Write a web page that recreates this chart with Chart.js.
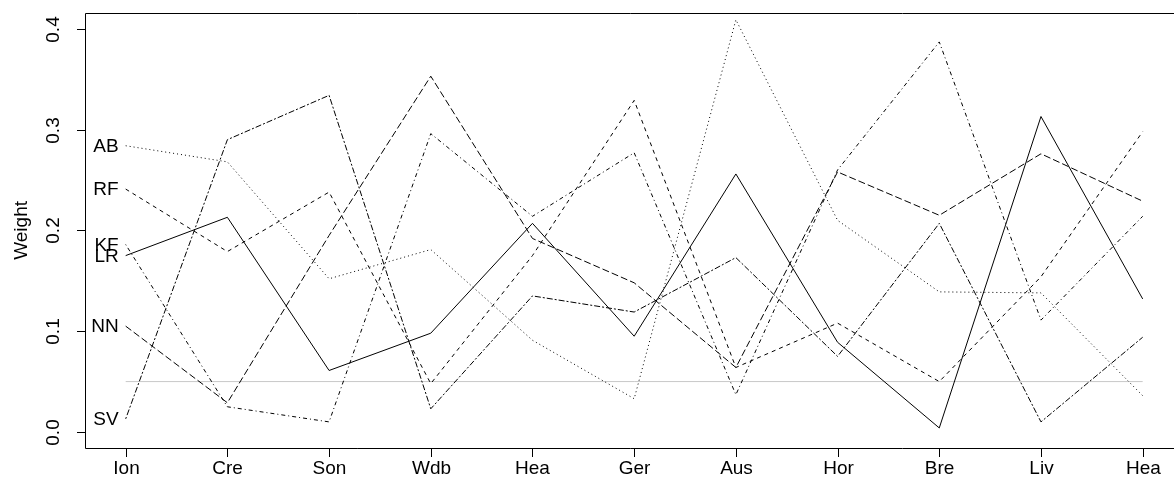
<!DOCTYPE html>
<html>
<head>
<meta charset="utf-8">
<script src="https://cdn.jsdelivr.net/npm/chart.js@4/dist/chart.umd.min.js"></script>
<style>
    html, body { margin: 0; padding: 0; background: #fff; overflow: hidden; }
    #chart { display: block; }
</style>
</head>
<body>
<canvas id="chart" width="1174" height="481"></canvas>
<script>
// categories along the x axis
var categories = ['Ion', 'Cre', 'Son', 'Wdb', 'Hea', 'Ger', 'Aus', 'Hor', 'Bre', 'Liv', 'Hea'];
var yTicks = [0.0, 0.1, 0.2, 0.3, 0.4];
var yTickLabels = ['0.0', '0.1', '0.2', '0.3', '0.4'];

// weights per model
var LR = [0.175, 0.213, 0.061, 0.098, 0.207, 0.095, 0.256, 0.089, 0.004, 0.313, 0.132];
var KF = [0.186, 0.025, 0.010, 0.296, 0.214, 0.277, 0.037, 0.260, 0.387, 0.111, 0.214];
var RF = [0.241, 0.179, 0.238, 0.048, 0.175, 0.329, 0.064, 0.108, 0.050, 0.154, 0.298];
var AB = [0.284, 0.268, 0.152, 0.181, 0.091, 0.033, 0.409, 0.210, 0.139, 0.138, 0.036];
var NN = [0.105, 0.029, 0.195, 0.353, 0.192, 0.148, 0.064, 0.258, 0.215, 0.276, 0.229];
var SV = [0.013, 0.290, 0.334, 0.023, 0.135, 0.119, 0.173, 0.075, 0.207, 0.010, 0.094];
var refLevel = 0.05;

var FONT = '19px "Liberation Sans", Arial, sans-serif';

function pts(arr) {
    return arr.map(function (v, i) { return {x: i, y: v}; });
}

function series(name, arr, dash) {
    return {
        label: name,
        data: pts(arr),
        borderColor: '#000',
        borderWidth: 1,
        borderDash: dash,
        pointRadius: 0,
        fill: false,
        tension: 0,
    };
}

// box, axes and the series names drawn on top of the library's scales
var rAxes = {
    id: 'rAxes',
    afterDraw: function (chart) {
        var ctx = chart.ctx;
        var a = chart.chartArea;
        var xs = chart.scales.x, ys = chart.scales.y;
        ctx.save();
        ctx.strokeStyle = '#000';
        ctx.lineWidth = 1;
        ctx.beginPath();
        ctx.moveTo(a.right + 2, Math.round(a.top) + 0.5);
        ctx.lineTo(Math.round(a.left) + 0.5, Math.round(a.top) + 0.5);
        ctx.lineTo(Math.round(a.left) + 0.5, Math.round(a.bottom) + 0.5);
        ctx.lineTo(a.right + 2, Math.round(a.bottom) + 0.5);
        ctx.stroke();

        ctx.fillStyle = '#000';
        ctx.font = FONT;

        // x ticks
        ctx.textAlign = 'center';
        ctx.textBaseline = 'middle';
        categories.forEach(function (c, i) {
            var px = Math.round(xs.getPixelForValue(i)) + 0.5;
            ctx.beginPath();
            ctx.moveTo(px, Math.round(a.bottom));
            ctx.lineTo(px, Math.round(a.bottom) + 9);
            ctx.stroke();
            ctx.fillText(c, px, a.bottom + 21);
        });

        // y ticks, rotated labels
        yTicks.forEach(function (v, i) {
            var py = Math.round(ys.getPixelForValue(v)) + 0.5;
            ctx.beginPath();
            ctx.moveTo(Math.round(a.left), py);
            ctx.lineTo(Math.round(a.left) - 8, py);
            ctx.stroke();
            ctx.save();
            ctx.translate(a.left - 31, py);
            ctx.rotate(-Math.PI / 2);
            ctx.fillText(yTickLabels[i], 0, 0);
            ctx.restore();
        });

        // y title
        ctx.save();
        ctx.translate(22, (ys.getPixelForValue(0) + ys.getPixelForValue(0.4)) / 2);
        ctx.rotate(-Math.PI / 2);
        ctx.fillText('Weight', 0, 0);
        ctx.restore();

        // series names at the first category
        ctx.textAlign = 'right';
        chart.data.datasets.forEach(function (ds) {
            if (!ds.label) return;
            var y0 = ds.data[0].y;
            ctx.fillText(ds.label, xs.getPixelForValue(0) - 7, ys.getPixelForValue(y0) + 1);
        });
        ctx.restore();
    }
};

new Chart(document.getElementById('chart'), {
    type: 'line',
    data: {
        datasets: [
            series('LR', LR, []),
            series('KF', KF, [1, 3, 4, 3]),
            series('RF', RF, [4, 4]),
            series('AB', AB, [1, 3]),
            series('NN', NN, [7, 3]),
            series('SV', SV, [2, 2, 6, 2]),
            {
                label: '',
                data: [{x: 0, y: refLevel}, {x: categories.length - 1, y: refLevel}],
                borderColor: '#c8c8c8',
                borderWidth: 1,
                pointRadius: 0,
                fill: false,
                order: 1,
            },
        ]
    },
    options: {
        responsive: false,
        animation: false,
        devicePixelRatio: 1,
        events: [],
        layout: {padding: {left: 85, top: 13, right: 0, bottom: 33}},
        plugins: {legend: {display: false}, tooltip: {enabled: false}},
        scales: {
            x: {type: 'linear', min: -0.4, max: 10.308, display: false},
            y: {type: 'linear', min: -0.0159, max: 0.4157, display: false},
        },
    },
    plugins: [rAxes],
});
</script>
</body>
</html>
